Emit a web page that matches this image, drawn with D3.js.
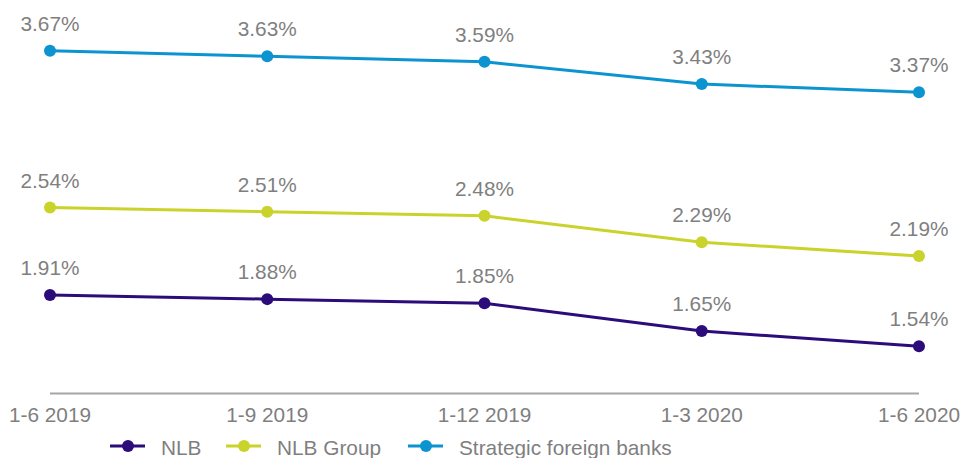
<!DOCTYPE html>
<html>
<head>
<script src="https://cdn.jsdelivr.net/npm/d3@7"></script>
<style>
  body { margin: 0; background: #fff; }
  text { font-family: "Liberation Sans", Arial, sans-serif; fill: #7f7f7f; }
</style>
</head>
<body>
<script>
var periods = ["1-6 2019", "1-9 2019", "1-12 2019", "1-3 2020", "1-6 2020"];
var nlb = [1.91, 1.88, 1.85, 1.65, 1.54];
var nlbGroup = [2.54, 2.51, 2.48, 2.29, 2.19];
var strategic = [3.67, 3.63, 3.59, 3.43, 3.37];
var seriesNames = ["NLB", "NLB Group", "Strategic foreign banks"];
var seriesColors = ["#2c0b7b", "#cad32b", "#0c94d1"];

var width = 961, height = 458;
var svg = d3.select("body").append("svg")
  .attr("width", width)
  .attr("height", height);

var x = d3.scalePoint().domain(periods).range([50, 919]);
var y = d3.scaleLinear().domain([1.2, 4.0]).range([393.5, 4.9]);

// x axis line
svg.append("line")
  .attr("x1", x(periods[0]))
  .attr("x2", x(periods[periods.length - 1]))
  .attr("y1", y(1.2)).attr("y2", y(1.2))
  .attr("stroke", "#a6a6a6")
  .attr("stroke-width", 2);

svg.selectAll(".tick-label")
  .data(periods)
  .enter().append("text")
  .attr("class", "tick-label")
  .attr("x", function(d) { return x(d); })
  .attr("y", 422)
  .attr("text-anchor", "middle")
  .style("font-size", "20.8px")
  .text(function(d) { return d; });

var allSeries = [nlb, nlbGroup, strategic];
var line = d3.line()
  .x(function(d, i) { return x(periods[i]); })
  .y(function(d) { return y(d); });

allSeries.forEach(function(values, s) {
  var g = svg.append("g");
  g.append("path")
    .datum(values)
    .attr("d", line)
    .attr("fill", "none")
    .attr("stroke", seriesColors[s])
    .attr("stroke-width", 3);
  g.selectAll("circle")
    .data(values)
    .enter().append("circle")
    .attr("cx", function(d, i) { return x(periods[i]); })
    .attr("cy", function(d) { return y(d); })
    .attr("r", 6)
    .attr("fill", seriesColors[s]);
  g.selectAll("text")
    .data(values)
    .enter().append("text")
    .attr("x", function(d, i) { return x(periods[i]); })
    .attr("y", function(d) { return y(d) - 20; })
    .attr("text-anchor", "middle")
    .style("font-size", "20.8px")
    .text(function(d) { return d.toFixed(2) + "%"; });
});

// legend
var legendX = [110, 226, 408];
var legend = svg.selectAll(".legend")
  .data(seriesNames)
  .enter().append("g")
  .attr("class", "legend")
  .attr("transform", function(d, i) { return "translate(" + legendX[i] + ",446)"; });
legend.append("line")
  .attr("x1", 0).attr("x2", 35)
  .attr("stroke", function(d, i) { return seriesColors[i]; })
  .attr("stroke-width", 3);
legend.append("circle")
  .attr("cx", 18).attr("r", 6)
  .attr("fill", function(d, i) { return seriesColors[i]; });
legend.append("text")
  .attr("x", 51)
  .attr("y", 9)
  .style("font-size", "20.8px")
  .text(function(d) { return d; });
</script>
</body>
</html>
